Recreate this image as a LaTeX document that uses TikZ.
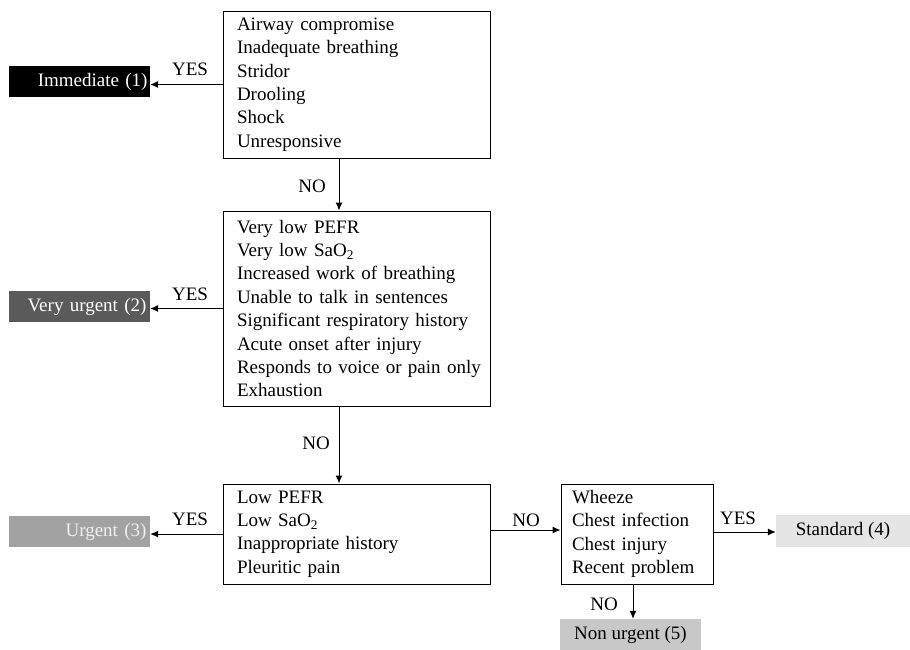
\documentclass[tikz,border=0pt]{standalone}
\usepackage{fontspec}
\setmainfont{Liberation Serif}
\usetikzlibrary{arrows.meta}
\definecolor{vudark}{HTML}{5A5A5A}
\definecolor{urgmid}{HTML}{A2A2A2}
\definecolor{urgtxt}{HTML}{EFEFEF}
\definecolor{stdlight}{HTML}{E5E5E5}
\definecolor{nonurg}{HTML}{C8C8C8}
\begin{document}
\begin{tikzpicture}[x=1pt,y=-1pt,
  every node/.style={font=\fontsize{19}{23.4}\selectfont},
  critbox/.style={draw, line width=1pt, align=left, inner ysep=0pt, anchor=center},
  bigbox/.style={critbox, inner xsep=14pt, text width=239pt},
  outbox/.style={minimum width=141pt, minimum height=31pt, inner sep=0pt, anchor=center},
  lab/.style={anchor=base, inner sep=0pt},
  arr/.style={line width=1pt, -{Latex[length=8pt,width=7pt]}}]
\useasboundingbox (0,0) rectangle (910,649);

% question boxes
\node[bigbox, minimum height=147pt] (b1) at (356.5,84.5)
  {Airway compromise\\Inadequate breathing\\Stridor\\Drooling\\Shock\\Unresponsive};
\node[bigbox, minimum height=195pt] (b2) at (356.5,308.5)
  {Very low PEFR\\Very low SaO\textsubscript{2}\\Increased work of breathing\\Unable to talk in sentences\\Significant respiratory history\\Acute onset after injury\\\makebox[239pt][l]{Responds to voice or pain only}\\Exhaustion};
\node[bigbox, minimum height=100pt] (b3) at (356.5,534)
  {Low PEFR\\Low SaO\textsubscript{2}\\Inappropriate history\\Pleuritic pain};
\node[critbox, inner xsep=11pt, text width=130pt, minimum height=100pt] (b4) at (637,534)
  {Wheeze\\Chest infection\\Chest injury\\Recent problem};

% outcome boxes
\node[outbox, fill=black, text=white, align=right, text width=136pt] (imm) at (79.5,81.5) {Immediate (1)};
\node[outbox, fill=vudark, text=white, align=right, text width=134pt] (vurg) at (79.5,306.5) {Very urgent (2)};
\node[outbox, fill=urgmid, text=urgtxt, align=right, text width=134pt] (urg) at (79.5,531.5) {Urgent (3)};
\node[outbox, fill=stdlight, minimum width=134pt, minimum height=32pt] (std) at (843,531) {Standard (4)};
\node[outbox, fill=nonurg, minimum height=31pt] (nonu) at (630.5,634.5) {Non urgent (5)};

% connectors
\draw[arr] (b1.west) -- (b1.west -| imm.east);
\draw[arr] (b2.west) -- (b2.west -| vurg.east);
\draw[arr] (b3.west) -- (b3.west -| urg.east);
\draw[arr] ([xshift=-17.5pt]b1.south) -- ([xshift=-17.5pt]b1.south |- b2.north);
\draw[arr] ([xshift=-17.5pt]b2.south) -- ([xshift=-17.5pt]b2.south |- b3.north);
\draw[arr] ([yshift=4pt]b3.east) -- ([yshift=4pt]b3.east -| b4.west);
\draw[arr] ([yshift=2pt]b4.east) -- ([yshift=2pt]b4.east -| std.west);
\draw[arr] ([xshift=-4pt]b4.south) -- ([xshift=-4pt]b4.south |- nonu.north);

% labels
\node[lab] (y1) at (190,75) {YES};
\node[lab] (y2) at (190,300) {YES};
\node[lab] (y3) at (190,525) {YES};
\node[lab] (n1) at (312,192) {NO};
\node[lab] (n2) at (316,449) {NO};
\node[lab] (n3) at (526,526) {NO};
\node[lab] (y4) at (738,524) {YES};
\node[lab] (n4) at (604,610) {NO};
\end{tikzpicture}
\end{document}
